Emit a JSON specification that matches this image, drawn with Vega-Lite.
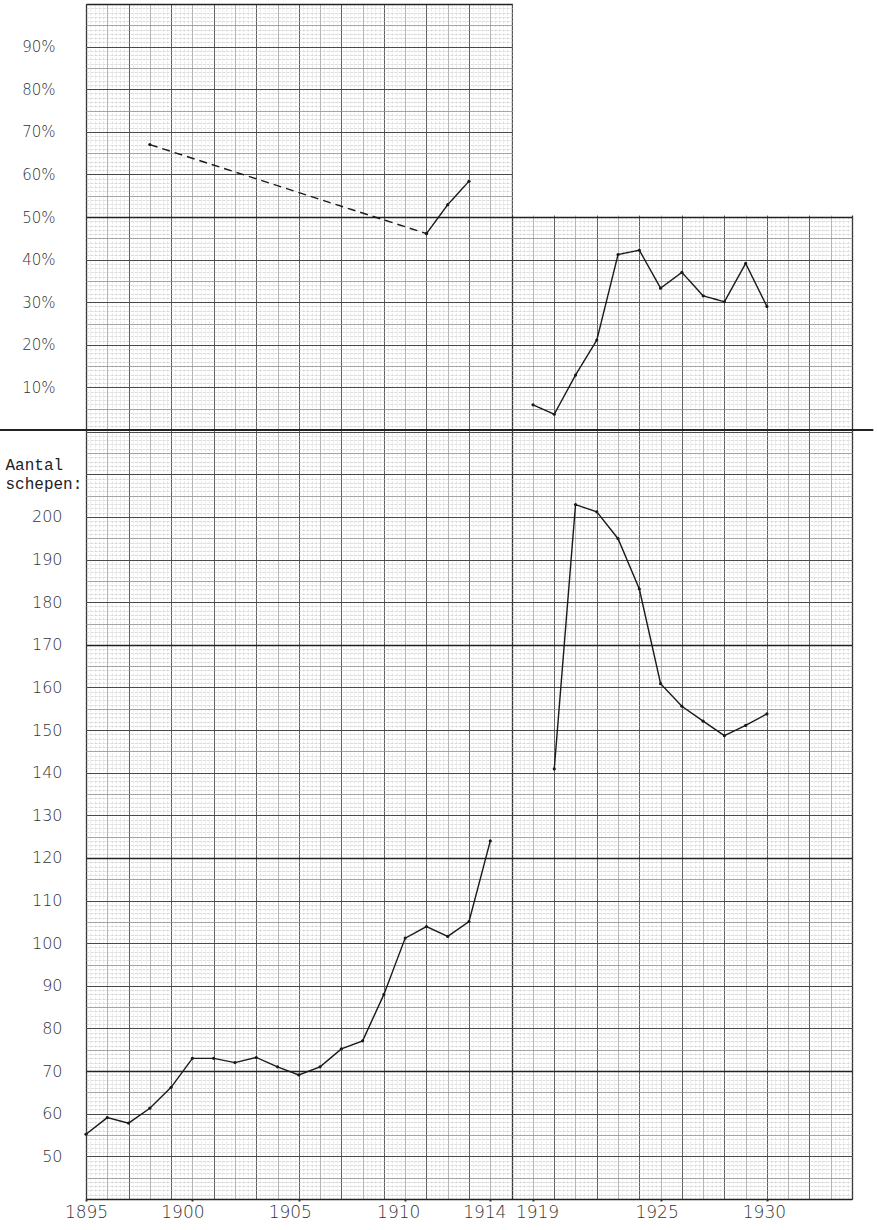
{
  "$schema": "https://vega.github.io/schema/vega-lite/v6.json",
  "width": 766,
  "height": 1195,
  "autosize": {"type": "none"},
  "padding": {"left": 86, "top": 4, "right": 25, "bottom": 31},
  "background": "white",
  "config": {"view": {"stroke": null}},
  "datasets": {
    "pct": [
      {"year": 1898, "pct": 67.0, "part": "a"},
      {"year": 1911, "pct": 46.1, "part": "a"},
      {"year": 1911, "pct": 46.1, "part": "b"},
      {"year": 1912, "pct": 52.9, "part": "b"},
      {"year": 1913, "pct": 58.4, "part": "b"},
      {"year": 1919, "pct": 5.9, "part": "c"},
      {"year": 1920, "pct": 3.7, "part": "c"},
      {"year": 1921, "pct": 12.9, "part": "c"},
      {"year": 1922, "pct": 21.1, "part": "c"},
      {"year": 1923, "pct": 41.2, "part": "c"},
      {"year": 1924, "pct": 42.2, "part": "c"},
      {"year": 1925, "pct": 33.3, "part": "c"},
      {"year": 1926, "pct": 37.0, "part": "c"},
      {"year": 1927, "pct": 31.5, "part": "c"},
      {"year": 1928, "pct": 30.1, "part": "c"},
      {"year": 1929, "pct": 39.1, "part": "c"},
      {"year": 1930, "pct": 29.0, "part": "c"}
    ],
    "ships": [
      {"year": 1895, "ships": 55.2, "part": "a"},
      {"year": 1896, "ships": 59.1, "part": "a"},
      {"year": 1897, "ships": 57.8, "part": "a"},
      {"year": 1898, "ships": 61.3, "part": "a"},
      {"year": 1899, "ships": 66.2, "part": "a"},
      {"year": 1900, "ships": 73.0, "part": "a"},
      {"year": 1901, "ships": 73.0, "part": "a"},
      {"year": 1902, "ships": 72.0, "part": "a"},
      {"year": 1903, "ships": 73.2, "part": "a"},
      {"year": 1904, "ships": 71.0, "part": "a"},
      {"year": 1905, "ships": 69.1, "part": "a"},
      {"year": 1906, "ships": 71.0, "part": "a"},
      {"year": 1907, "ships": 75.2, "part": "a"},
      {"year": 1908, "ships": 77.1, "part": "a"},
      {"year": 1909, "ships": 88.0, "part": "a"},
      {"year": 1910, "ships": 101.2, "part": "a"},
      {"year": 1911, "ships": 103.9, "part": "a"},
      {"year": 1912, "ships": 101.6, "part": "a"},
      {"year": 1913, "ships": 105.1, "part": "a"},
      {"year": 1914, "ships": 124.0, "part": "a"},
      {"year": 1920, "ships": 140.9, "part": "b"},
      {"year": 1921, "ships": 202.9, "part": "b"},
      {"year": 1922, "ships": 201.2, "part": "b"},
      {"year": 1923, "ships": 194.9, "part": "b"},
      {"year": 1924, "ships": 183.1, "part": "b"},
      {"year": 1925, "ships": 160.9, "part": "b"},
      {"year": 1926, "ships": 155.6, "part": "b"},
      {"year": 1927, "ships": 152.1, "part": "b"},
      {"year": 1928, "ships": 148.7, "part": "b"},
      {"year": 1929, "ships": 151.1, "part": "b"},
      {"year": 1930, "ships": 153.8, "part": "b"}
    ]
  },
  "layer": [
    {
      "data": {"values": [{}]},
      "mark": {"type": "point", "opacity": 0},
      "encoding": {
        "x": {"datum": 0, "type": "quantitative", "scale": {"domain": [0, 36], "range": [0, 766], "nice": false, "zero": false},
          "axis": {"orient": "bottom", "grid": true, "tickCount": 180, "gridColor": "#cfcfcf", "gridWidth": 0.5, "gridDash": [2, 2], "labels": false, "ticks": false, "domain": false, "title": null}}
      }
    },
    {
      "data": {"values": [{}]},
      "mark": {"type": "point", "opacity": 0},
      "encoding": {
        "x": {"datum": 0, "type": "quantitative", "scale": {"domain": [0, 36], "range": [0, 766], "nice": false, "zero": false},
          "axis": {"orient": "bottom", "grid": true, "tickCount": 36, "gridColor": "#9a9a9a", "gridWidth": 0.7, "labels": false, "ticks": false, "domain": false, "title": null}}
      }
    },
    {
      "data": {"values": [{}]},
      "mark": {"type": "point", "opacity": 0},
      "encoding": {
        "x": {"datum": 0, "type": "quantitative", "scale": {"domain": [0, 36], "range": [0, 766], "nice": false, "zero": false},
          "axis": {"orient": "bottom", "grid": true, "tickCount": 18, "gridColor": "#555555", "gridWidth": 0.9, "labels": false, "ticks": false, "domain": false, "title": null}}
      }
    },
    {
      "data": {"values": [{}]},
      "mark": {"type": "point", "opacity": 0},
      "encoding": {
        "x": {"datum": 0, "type": "quantitative", "scale": {"domain": [0, 36], "range": [0, 766], "nice": false, "zero": false},
          "axis": {"orient": "bottom", "grid": true, "values": [0, 20, 36], "gridColor": "#333333", "gridWidth": 1.3, "labels": false, "ticks": false, "domain": false, "title": null}}
      }
    },
    {
      "data": {"values": [{}]},
      "mark": {"type": "point", "opacity": 0},
      "encoding": {
        "y": {"datum": 0, "type": "quantitative", "scale": {"domain": [0, 100], "range": [426, 0], "nice": false, "zero": false},
          "axis": {"orient": "left", "grid": true, "tickCount": 100, "gridColor": "#b8b8b8", "gridWidth": 0.5, "gridDash": [3, 1], "labels": false, "ticks": false, "domain": false, "title": null}}
      }
    },
    {
      "data": {"values": [{}]},
      "mark": {"type": "point", "opacity": 0},
      "encoding": {
        "y": {"datum": 0, "type": "quantitative", "scale": {"domain": [0, 100], "range": [426, 0], "nice": false, "zero": false},
          "axis": {"orient": "left", "grid": true, "tickCount": 20, "gridColor": "#8a8a8a", "gridWidth": 0.7, "labels": false, "ticks": false, "domain": false, "title": null}}
      }
    },
    {
      "data": {"values": [{}]},
      "mark": {"type": "point", "opacity": 0},
      "encoding": {
        "y": {"datum": 0, "type": "quantitative", "scale": {"domain": [0, 100], "range": [426, 0], "nice": false, "zero": false},
          "axis": {"orient": "left", "grid": true, "tickCount": 10, "gridColor": "#4a4a4a", "gridWidth": 1, "labels": false, "ticks": false, "domain": false, "title": null}}
      }
    },
    {
      "data": {"values": [{}]},
      "mark": {"type": "point", "opacity": 0},
      "encoding": {
        "y": {"datum": 0, "type": "quantitative", "scale": {"domain": [0, 100], "range": [426, 0], "nice": false, "zero": false},
          "axis": {"orient": "left", "grid": true, "values": [50, 100], "gridColor": "#222222", "gridWidth": 1.6, "labels": false, "ticks": false, "domain": false, "title": null}}
      }
    },
    {
      "data": {"values": [{}]},
      "mark": {"type": "point", "opacity": 0},
      "encoding": {
        "y": {"datum": 100, "type": "quantitative", "scale": {"domain": [40, 220.4], "range": [1195, 426], "nice": false, "zero": false},
          "axis": {"orient": "left", "grid": true, "tickCount": 180, "gridColor": "#b8b8b8", "gridWidth": 0.5, "gridDash": [3, 1], "labels": false, "ticks": false, "domain": false, "title": null}}
      }
    },
    {
      "data": {"values": [{}]},
      "mark": {"type": "point", "opacity": 0},
      "encoding": {
        "y": {"datum": 100, "type": "quantitative", "scale": {"domain": [40, 220.4], "range": [1195, 426], "nice": false, "zero": false},
          "axis": {"orient": "left", "grid": true, "tickCount": 36, "gridColor": "#8a8a8a", "gridWidth": 0.7, "labels": false, "ticks": false, "domain": false, "title": null}}
      }
    },
    {
      "data": {"values": [{}]},
      "mark": {"type": "point", "opacity": 0},
      "encoding": {
        "y": {"datum": 100, "type": "quantitative", "scale": {"domain": [40, 220.4], "range": [1195, 426], "nice": false, "zero": false},
          "axis": {"orient": "left", "grid": true, "tickCount": 18, "gridColor": "#4a4a4a", "gridWidth": 1, "labels": false, "ticks": false, "domain": false, "title": null}}
      }
    },
    {
      "data": {"values": [{}]},
      "mark": {"type": "point", "opacity": 0},
      "encoding": {
        "y": {"datum": 100, "type": "quantitative", "scale": {"domain": [40, 220.4], "range": [1195, 426], "nice": false, "zero": false},
          "axis": {"orient": "left", "grid": true, "values": [40, 70, 120, 170], "gridColor": "#222222", "gridWidth": 1.6, "labels": false, "ticks": false, "domain": false, "title": null}}
      }
    },
    {
      "data": {"values": [{}]},
      "mark": {"type": "rect", "color": "white", "opacity": 1},
      "encoding": {
        "x": {"datum": 20.06, "type": "quantitative", "scale": {"domain": [0, 36], "range": [0, 766], "nice": false, "zero": false}, "axis": null},
        "x2": {"datum": 37},
        "y": {"datum": 50.35, "type": "quantitative", "scale": {"domain": [0, 100], "range": [426, 0], "nice": false, "zero": false}, "axis": null},
        "y2": {"datum": 102}
      }
    },
    {
      "data": {"values": [{}]},
      "mark": {"type": "rule", "color": "#222222", "strokeWidth": 1.8},
      "encoding": {
        "x": {"datum": -4.05, "type": "quantitative", "scale": {"domain": [0, 36], "range": [0, 766], "nice": false, "zero": false}, "axis": null},
        "x2": {"datum": 37.0},
        "y": {"datum": 0, "type": "quantitative", "scale": {"domain": [0, 100], "range": [426, 0], "nice": false, "zero": false}, "axis": null}
      }
    },
    {
      "data": {"name": "pct"},
      "mark": {"type": "line", "color": "#1a1a1a", "strokeWidth": 1.4, "point": {"filled": true, "size": 10, "color": "#1a1a1a"}},
      "encoding": {
        "x": {"field": "year", "type": "quantitative", "scale": {"domain": [1895, 1914, 1919, 1934], "range": [0, 404.3, 447, 766], "nice": false, "zero": false}, "axis": null},
        "y": {"field": "pct", "type": "quantitative", "scale": {"domain": [0, 100], "range": [426, 0], "nice": false, "zero": false},
          "axis": {"orient": "left", "grid": false, "values": [10, 20, 30, 40, 50, 60, 70, 80, 90], "labelExpr": "datum.value + '%'", "labelPadding": 31, "labelFont": "DejaVu Sans", "labelFontWeight": 200, "labelFontSize": 15, "labelColor": "#333333", "ticks": false, "domain": false, "title": null}},
        "detail": {"field": "part", "type": "nominal"},
        "strokeDash": {"field": "part", "type": "nominal", "scale": {"domain": ["a", "b", "c"], "range": [[8, 5], [1, 0], [1, 0]]}, "legend": null}
      }
    },
    {
      "data": {"name": "ships"},
      "mark": {"type": "line", "color": "#1a1a1a", "strokeWidth": 1.4, "point": {"filled": true, "size": 10, "color": "#1a1a1a"}},
      "encoding": {
        "x": {"field": "year", "type": "quantitative", "scale": {"domain": [1895, 1914, 1919, 1934], "range": [0, 404.3, 447, 766], "nice": false, "zero": false},
          "axis": {"orient": "bottom", "grid": false, "values": [1895, 1900, 1905, 1910, 1914, 1919, 1925, 1930], "format": "d", "labelOverlap": false, "labelFlush": false, "labelPadding": 3,
            "labelOffset": {"condition": [{"test": "datum.value == 1900", "value": -10}, {"test": "datum.value == 1905", "value": -9}, {"test": "datum.value == 1910", "value": -7}, {"test": "datum.value == 1914", "value": -6}, {"test": "datum.value == 1919", "value": 4}, {"test": "datum.value == 1925", "value": -4}, {"test": "datum.value == 1930", "value": -3}], "value": 0},
            "labelFont": "DejaVu Sans", "labelFontWeight": 200, "labelFontSize": 17, "labelColor": "#333333", "ticks": true, "tickSize": 2, "tickWidth": 2, "tickColor": "#333333", "domain": false, "title": null}},
        "y": {"field": "ships", "type": "quantitative", "scale": {"domain": [40, 220.4], "range": [1195, 426], "nice": false, "zero": false},
          "axis": {"orient": "left", "grid": false, "values": [50, 60, 70, 80, 90, 100, 110, 120, 130, 140, 150, 160, 170, 180, 190, 200], "labelPadding": 24, "labelFont": "DejaVu Sans", "labelFontWeight": 200, "labelFontSize": 16, "labelColor": "#333333", "ticks": false, "domain": false,
            "title": ["Aantal", "schepen:"], "titleAngle": 0, "titleAlign": "left", "titleBaseline": "alphabetic", "titleX": -81, "titleY": 465, "titleFont": "Liberation Mono", "titleFontSize": 16, "titleFontWeight": "normal", "titleLineHeight": 19, "titleColor": "#222222"}},
        "detail": {"field": "part", "type": "nominal"}
      }
    }
  ],
  "resolve": {"scale": {"x": "independent", "y": "independent"}}
}
